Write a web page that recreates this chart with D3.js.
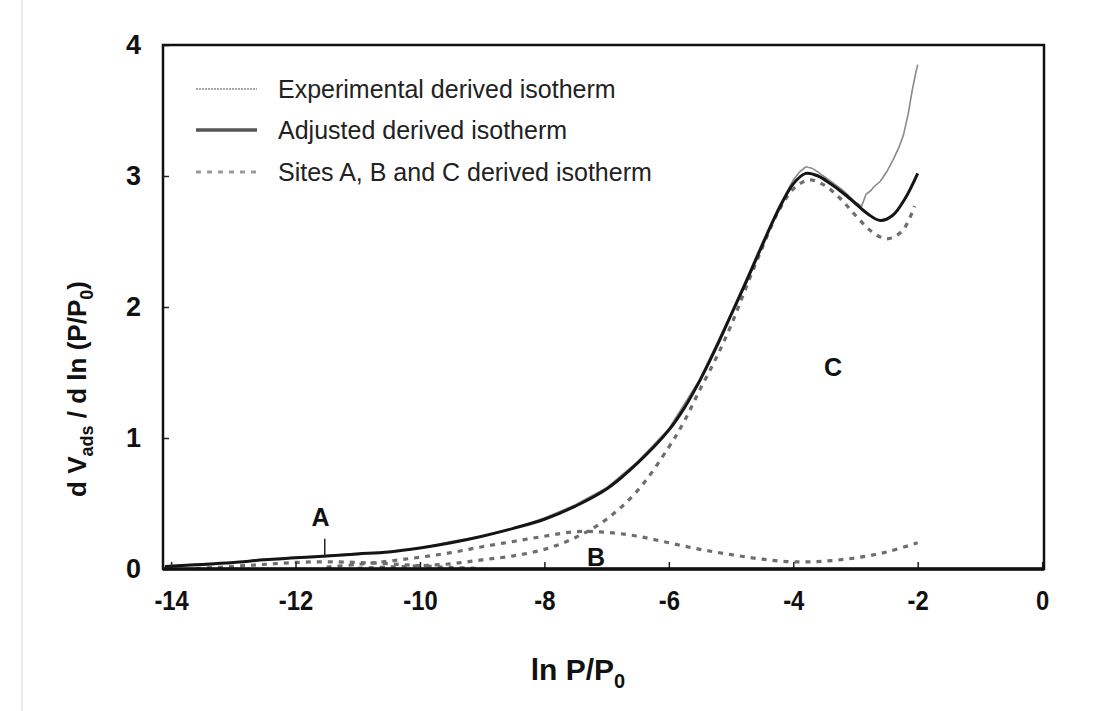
<!DOCTYPE html>
<html>
<head>
<meta charset="utf-8">
<script src="https://cdn.jsdelivr.net/npm/d3@7"></script>
<style>
  html, body { margin: 0; padding: 0; background: #fff; }
  svg { display: block; }
  text { font-family: "Liberation Sans", Arial, sans-serif; }
</style>
</head>
<body>
<svg id="chart" width="1117" height="711"></svg>
<script>
// ---------------- data ----------------
const xTicks = [-14, -12, -10, -8, -6, -4, -2, 0];
const yTicks = [0, 1, 2, 3, 4];

const adjustedX = [-14.1, -13.5, -13, -12.5, -12, -11.5, -11, -10.5, -10, -9.5, -9, -8.5, -8, -7.5, -7, -6.5, -6, -5.75, -5.5, -5.25, -5, -4.75, -4.5, -4.25, -4, -3.8, -3.6, -3.4, -3.2, -3, -2.8, -2.6, -2.4, -2.2, -2.0];
const adjustedY = [0.02, 0.035, 0.05, 0.07, 0.085, 0.10, 0.115, 0.13, 0.16, 0.20, 0.25, 0.31, 0.38, 0.48, 0.61, 0.81, 1.06, 1.23, 1.44, 1.68, 1.94, 2.2, 2.47, 2.73, 2.94, 3.02, 3.0, 2.94, 2.87, 2.79, 2.71, 2.66, 2.7, 2.83, 3.02];

const experimentalX = [-14.1, -13.5, -13, -12.5, -12, -11.5, -11, -10.5, -10, -9.5, -9, -8.5, -8, -7.5, -7, -6.5, -6, -5.5, -5, -4.5, -4.25, -4, -3.9, -3.8, -3.7, -3.6, -3.4, -3.2, -3.0, -2.9, -2.83, -2.75, -2.7, -2.6, -2.5, -2.4, -2.3, -2.23, -2.15, -2.09, -2.03, -2.0];
const experimentalY = [0.02, 0.04, 0.05, 0.075, 0.09, 0.10, 0.12, 0.13, 0.16, 0.21, 0.25, 0.31, 0.39, 0.49, 0.62, 0.82, 1.07, 1.45, 1.95, 2.49, 2.75, 2.97, 3.03, 3.07, 3.06, 3.03, 2.96, 2.89, 2.8, 2.77, 2.86, 2.89, 2.92, 2.96, 3.03, 3.12, 3.22, 3.31, 3.48, 3.65, 3.79, 3.85];

const siteAX = [-13.6, -13, -12.5, -12, -11.5, -11, -10.5, -10, -9.5, -9];
const siteAY = [0.003, 0.02, 0.035, 0.05, 0.055, 0.05, 0.04, 0.025, 0.012, 0.003];

const siteBX = [-11.5, -11, -10.5, -10, -9.5, -9, -8.5, -8, -7.5, -7, -6.5, -6, -5.5, -5, -4.5, -4, -3.5, -3, -2.5, -2.0];
const siteBY = [0.015, 0.035, 0.06, 0.09, 0.125, 0.17, 0.21, 0.25, 0.285, 0.28, 0.25, 0.2, 0.15, 0.11, 0.075, 0.055, 0.06, 0.085, 0.13, 0.2];

const siteCX = [-11, -10.5, -10, -9.5, -9, -8.5, -8, -7.5, -7, -6.5, -6, -5.75, -5.5, -5.25, -5, -4.75, -4.5, -4.25, -4, -3.75, -3.5, -3.25, -3, -2.75, -2.5, -2.25, -2.05];
const siteCY = [0.005, 0.015, 0.025, 0.04, 0.07, 0.1, 0.15, 0.24, 0.38, 0.6, 0.93, 1.13, 1.37, 1.6, 1.86, 2.16, 2.45, 2.72, 2.9, 2.97, 2.93, 2.83, 2.7, 2.58, 2.52, 2.58, 2.77];

const siteLabels = ["A", "B", "C"];
const siteLabelX = [-11.6, -7.17, -3.36];
const siteLabelY = [0.40, 0.09, 1.54];
const markerA = {x: -11.53, y0: 0.09, y1: 0.23};

const legendLabels = ["Experimental derived isotherm", "Adjusted derived isotherm", "Sites A, B and C derived isotherm"];

// ---------------- layout ----------------
const svg = d3.select("#chart");
const L = 163, R = 1044, T = 45, B = 569;
const x = d3.scaleLinear().domain([-14.13, 0.03]).range([L, R]);
const y = d3.scaleLinear().domain([0, 4]).range([B, T]);

// faint scan border
svg.append("line").attr("x1", 22).attr("x2", 22).attr("y1", 0).attr("y2", 711)
  .attr("stroke", "#e4e4e4").attr("stroke-width", 1.5);

const zip = (xs, ys) => xs.map((v, i) => [v, ys[i]]);
const lineSmooth = d3.line().x(d => x(d[0])).y(d => y(d[1])).curve(d3.curveCatmullRom.alpha(0.5));
const lineRaw = d3.line().x(d => x(d[0])).y(d => y(d[1])).curve(d3.curveLinear);

const plot = svg.append("g");
[[siteAX, siteAY], [siteBX, siteBY], [siteCX, siteCY]].forEach(([xs, ys]) => {
  plot.append("path").datum(zip(xs, ys)).attr("d", lineSmooth)
    .attr("fill", "none").attr("stroke", "#6e6e6e").attr("stroke-width", 3.2)
    .attr("stroke-dasharray", "5,6");
});
plot.append("path").datum(zip(experimentalX, experimentalY)).attr("d", lineRaw)
  .attr("fill", "none").attr("stroke", "#8a8a8a").attr("stroke-width", 1.6);
plot.append("path").datum(zip(adjustedX, adjustedY)).attr("d", lineSmooth)
  .attr("fill", "none").attr("stroke", "#151515").attr("stroke-width", 3);

// marker under A
plot.append("line").attr("x1", x(markerA.x)).attr("x2", x(markerA.x))
  .attr("y1", y(markerA.y0)).attr("y2", y(markerA.y1))
  .attr("stroke", "#222").attr("stroke-width", 1.5);

// site labels
plot.selectAll("text.site").data(siteLabels).join("text")
  .attr("class", "site")
  .attr("x", (d, i) => x(siteLabelX[i])).attr("y", (d, i) => y(siteLabelY[i]))
  .attr("text-anchor", "middle").attr("dominant-baseline", "central")
  .attr("font-size", 25).attr("font-weight", "bold").attr("fill", "#111")
  .text(d => d);

// ---------------- axes ----------------
const fmt = d => String(d);
const yAxis = d3.axisLeft(y).tickValues(yTicks).tickFormat(fmt)
  .tickSizeInner(-6).tickSizeOuter(0).tickPadding(22);
const gy = svg.append("g").attr("transform", `translate(${L},0)`).call(yAxis);
gy.select(".domain").remove();
gy.selectAll(".tick line").attr("stroke", "#222").attr("stroke-width", 1.5);
gy.selectAll(".tick text").attr("font-size", 27).attr("font-weight", "bold")
  .attr("fill", "#111").attr("font-family", '"Liberation Sans", Arial, sans-serif');

const xAxis = d3.axisBottom(x).tickValues(xTicks).tickFormat(fmt)
  .tickSizeInner(-7).tickSizeOuter(0).tickPadding(21);
const gx = svg.append("g").attr("transform", `translate(0,${B})`).call(xAxis);
gx.select(".domain").remove();
gx.selectAll(".tick line").attr("stroke", "#222").attr("stroke-width", 1.5);
gx.selectAll(".tick text").attr("font-size", 28).attr("font-weight", "bold")
  .attr("fill", "#111").attr("font-family", '"Liberation Sans", Arial, sans-serif')
  .each(function() {
    const len = this.getComputedTextLength();
    d3.select(this).attr("textLength", len * 0.85).attr("lengthAdjust", "spacingAndGlyphs");
  });

// frame
svg.append("rect").attr("x", L).attr("y", T).attr("width", R - L).attr("height", B - T)
  .attr("fill", "none").attr("stroke", "#111").attr("stroke-width", 2.5);
svg.append("line").attr("x1", L).attr("x2", R).attr("y1", B).attr("y2", B)
  .attr("stroke", "#111").attr("stroke-width", 3.5);

// axis titles
const xt = svg.append("text").attr("x", 578).attr("y", 680).attr("text-anchor", "middle")
  .attr("font-size", 30).attr("font-weight", "bold").attr("fill", "#111");
xt.append("tspan").text("ln P/P");
xt.append("tspan").attr("font-size", 20).attr("dy", 8).text("0");

const yt = svg.append("text").attr("transform", "translate(86,389) rotate(-90)")
  .attr("text-anchor", "middle").attr("font-size", 26).attr("font-weight", "bold").attr("fill", "#111");
yt.append("tspan").text("d V");
yt.append("tspan").attr("font-size", 18).attr("dy", 7).text("ads");
yt.append("tspan").attr("dy", -7).text(" / d ln (P/P");
yt.append("tspan").attr("font-size", 18).attr("dy", 7).text("0");
yt.append("tspan").attr("dy", -7).text(")");

// ---------------- legend ----------------
const legendRowY = [89, 130, 172];
const lg = svg.append("g");
const legStyles = [
  {stroke: "#a8a8a8", width: 2, dash: "2,1"},
  {stroke: "#555", width: 3.5, dash: null},
  {stroke: "#9a9a9a", width: 3, dash: "5,6"}
];
legendLabels.forEach((lab, i) => {
  const st = legStyles[i];
  const ln = lg.append("line").attr("x1", 196).attr("x2", 257)
    .attr("y1", legendRowY[i]).attr("y2", legendRowY[i])
    .attr("stroke", st.stroke).attr("stroke-width", st.width);
  if (st.dash) ln.attr("stroke-dasharray", st.dash);
  lg.append("text").attr("x", 278).attr("y", legendRowY[i]).attr("dy", "0.35em")
    .attr("font-size", 25).attr("fill", "#222").text(lab);
});
</script>
</body>
</html>
